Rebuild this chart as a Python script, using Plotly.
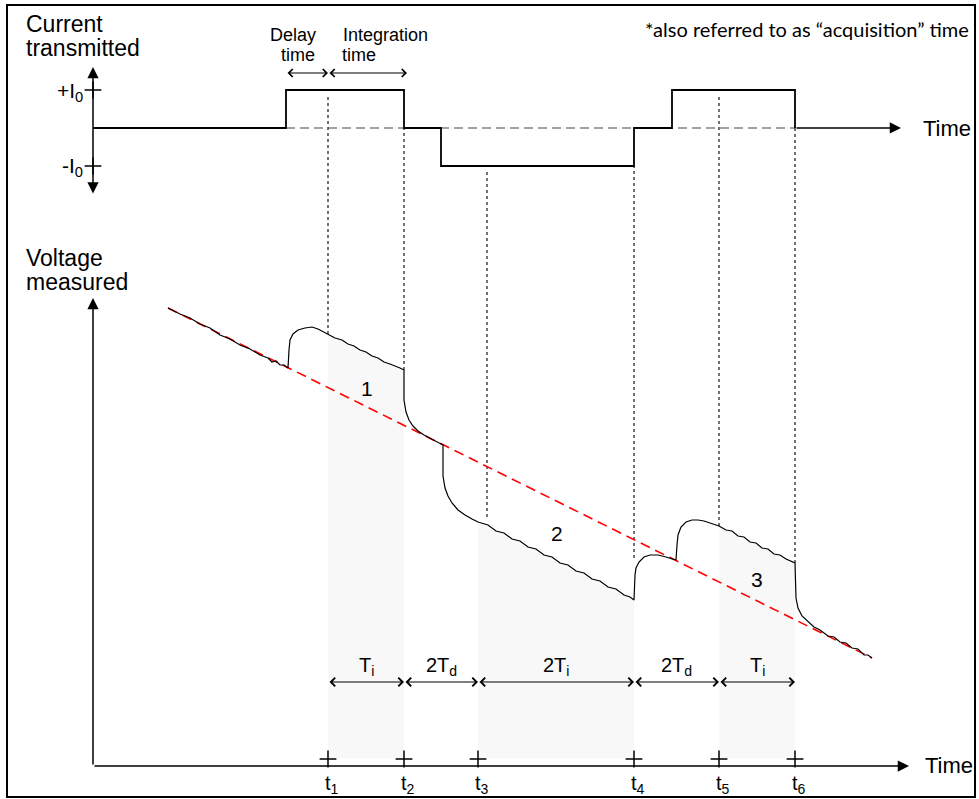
import plotly.graph_objects as go

# ---- data (time and voltage in arbitrary units) ----
# measured voltage trace
curve_t = [75, 87, 97, 107, 117, 127, 137, 147, 157, 167, 175, 179, 183, 187, 191, 195,
           196, 197, 200, 205, 212, 219, 225, 231, 235, 242, 249, 255, 261, 267, 273, 279,
           285, 291, 297, 303, 307, 311,
           311, 313, 316, 320, 325, 331, 337, 343, 350,
           350, 352, 355, 359, 365, 372, 379, 385, 395, 403, 411, 419, 427, 435, 443, 451,
           459, 467, 475, 483, 491, 499, 507, 515, 523, 531, 537, 541,
           542, 543, 546, 551, 557, 565, 573, 583,
           584, 585, 588, 593, 599, 605, 611, 619, 626, 633, 639, 645, 651, 657, 663, 669,
           675, 681, 687, 693, 702,
           703, 705, 709, 715, 721, 727, 735, 741, 747, 753, 759, 765, 771, 775, 779]
curve_v = [458, 452, 448, 442, 438, 431, 427, 421, 417, 411, 408, 404, 405, 401, 401, 398,
           416, 426, 432, 436, 438, 439, 437, 434, 432, 428, 426, 422, 420, 416, 414, 410,
           408, 404, 402, 400, 398, 396,
           366, 354, 346, 340, 335, 331, 328, 325, 321,
           290, 278, 270, 263, 256, 251, 247, 244, 241, 235, 233, 227, 225, 219, 217, 211,
           209, 203, 201, 195, 193, 187, 185, 179, 177, 171, 169, 166,
           191, 198, 204, 209, 211, 211, 209, 206,
           221, 231, 239, 244, 246, 246, 245, 242, 240, 236, 235, 230, 229, 224, 223, 218,
           217, 212, 211, 207, 203,
           168, 158, 150, 144, 139, 136, 130, 129, 124, 123, 118, 117, 111, 111, 108]

# extrapolated background drift (red dashed)
drift_t = [75, 779]
drift_v = [458, 108]

# transmitted current waveform (units of I0)
current_t = [0, 193, 193, 311, 311, 348, 348, 541, 541, 579, 579, 702, 702]
current_i = [0, 0, 1, 1, 0, 0, -1, -1, 0, 0, 1, 1, 0]

# marked times t1..t6
mark_t = [235, 311, 385, 541, 626, 702]
mark_labels = ["t<sub>1</sub>", "t<sub>2</sub>", "t<sub>3</sub>",
               "t<sub>4</sub>", "t<sub>5</sub>", "t<sub>6</sub>"]
interval_labels = ["T<sub>i</sub>", "2T<sub>d</sub>", "2T<sub>i</sub>",
                   "2T<sub>d</sub>", "T<sub>i</sub>"]

# integration windows (index pairs into mark_t) and their labels
windows = [(0, 1), (2, 3), (4, 5)]
window_labels = ["1", "2", "3"]
window_label_pos = [(274, 378), (464, 233), (664, 187)]

# dotted guides: time, top (V units), bottom (V units)
guide_t = [235, 311, 394, 541, 626, 702]
guide_top = [671, 638, 596, 600, 671, 638]
guide_bot = [432, 396, 249, 208, 240, 203]

FONT = "Liberation Sans"

fig = go.Figure()

# shaded integration areas under the curve
for (a, b) in windows:
    t0, t1 = mark_t[a], mark_t[b]
    xs = [t for t in curve_t if t0 <= t <= t1]
    ys = [v for t, v in zip(curve_t, curve_v) if t0 <= t <= t1]
    fig.add_trace(go.Scatter(
        x=xs + [t1, t0], y=ys + [8, 8], fill="toself", mode="none",
        fillcolor="#f8f8f8", hoverinfo="skip",
    ))

fig.add_trace(go.Scatter(
    x=drift_t, y=drift_v, mode="lines",
    line=dict(color="#ff0000", width=1.6, dash="10px,6px"),
))
fig.add_trace(go.Scatter(
    x=curve_t, y=curve_v, mode="lines",
    line=dict(color="black", width=1.2),
))

# current panel on overlaid axis
fig.add_trace(go.Scatter(
    x=[193, 702], y=[0, 0], yaxis="y2", mode="lines",
    line=dict(color="#444444", width=1.1, dash="9px,5px"),
))
fig.add_trace(go.Scatter(
    x=current_t, y=current_i, yaxis="y2", mode="lines",
    line=dict(color="black", width=1.8),
))
fig.add_trace(go.Scatter(
    x=[0, 0], y=[1, -1], yaxis="y2", mode="markers",
    marker=dict(symbol="cross-thin", size=12, line=dict(width=1.5, color="black")),
))
fig.add_trace(go.Scatter(
    x=mark_t, y=[7] * len(mark_t), mode="markers",
    marker=dict(symbol="cross-thin", size=12, line=dict(width=1.5, color="black")),
))

# dotted guides
for t, top, bot in zip(guide_t, guide_top, guide_bot):
    fig.add_shape(type="line", x0=t, x1=t, y0=bot, y1=top, xref="x", yref="y",
                  line=dict(color="#444444", width=1.5, dash="3px,3px"), layer="below")

# frame
fig.add_shape(type="rect", x0=-86, x1=882, y0=-31, y1=761, xref="x", yref="y",
              line=dict(color="black", width=2))

annotations = []


def arrow(x0, y0, x1, y1, yref="y", both=False, head=2, size=1.5, width=1.5):
    d = dict(x=x1, y=y1, ax=x0, ay=y0, xref="x", yref=yref, axref="x", ayref=yref,
             text="", showarrow=True, arrowhead=head, arrowsize=size,
             arrowwidth=width, arrowcolor="black", standoff=0, startstandoff=0)
    if both:
        d.update(arrowside="end+start", startarrowhead=head, startarrowsize=size)
    annotations.append(d)


def label(text, x, y, yref="y", size=20, xanchor="center", family=FONT):
    annotations.append(dict(x=x, y=y, xref="x", yref=yref, text=text, showarrow=False,
                            xanchor=xanchor, yanchor="middle",
                            font=dict(family=family, size=size, color="black")))


# axes
arrow(0, -1.763, 0, 1.605, yref="y2", both=True)
arrow(702, 0, 808, 0, yref="y2")
arrow(0, 0, 0, 468)
arrow(0, 0, 816, 0)

# delay / integration arrows
arrow(193, 1.447, 235, 1.447, yref="y2", both=True, head=4, size=1.4, width=1.1)
arrow(235, 1.447, 314, 1.447, yref="y2", both=True, head=4, size=1.4, width=1.1)

# interval arrows
for i, lab in enumerate(interval_labels):
    a, b = mark_t[i], mark_t[i + 1]
    arrow(a, 84, b, 84, both=True, head=4, size=1.4, width=1.2)
    label(lab, (a + b) / 2, 100, size=20)

for t, lab in zip(mark_t, mark_labels):
    label(lab, t + 4, -18, size=20)

for lab, (x, y) in zip(window_labels, window_label_pos):
    label(lab, x, y, size=21)

# panel texts
label("Current", -69, 2.737, yref="y2", size=23, xanchor="left")
label("transmitted", -69, 2.105, yref="y2", size=23, xanchor="left")
label("Delay", 200, 2.447, yref="y2", size=18)
label("time", 224, 1.921, yref="y2", size=18, xanchor="right")
label("Integration", 292, 2.447, yref="y2", size=18)
label("time", 247, 1.921, yref="y2", size=18, xanchor="left")
label("*also referred to as \u201cacquisition\u201d time", 878, 2.605, yref="y2",
      size=20, xanchor="right", family="Lato")
label("+I<sub>0</sub>", -8, 0.947, yref="y2", size=21, xanchor="right")
label("-I<sub>0</sub>", -8, -1.026, yref="y2", size=21, xanchor="right")
label("Time", 828, -0.026, yref="y2", size=22, xanchor="left")
label("Voltage", -69, 508, size=23, xanchor="left")
label("measured", -69, 484, size=23, xanchor="left")
label("Time", 830, 1, size=22, xanchor="left")

fig.update_layout(
    width=979, height=799,
    margin=dict(l=0, r=0, t=0, b=0, pad=0),
    paper_bgcolor="white", plot_bgcolor="white",
    showlegend=False,
    xaxis=dict(range=[-93, 886], visible=False, fixedrange=True),
    yaxis=dict(range=[-33, 766], visible=False, fixedrange=True),
    yaxis2=dict(range=[-17.658, 3.368], visible=False, overlaying="y", fixedrange=True),
    annotations=annotations,
)

# the page body has a default margin; drop it so the figure fills the window
fig.write_html("out.html", config={"displayModeBar": False},
               post_script="document.body.style.margin='0';")
